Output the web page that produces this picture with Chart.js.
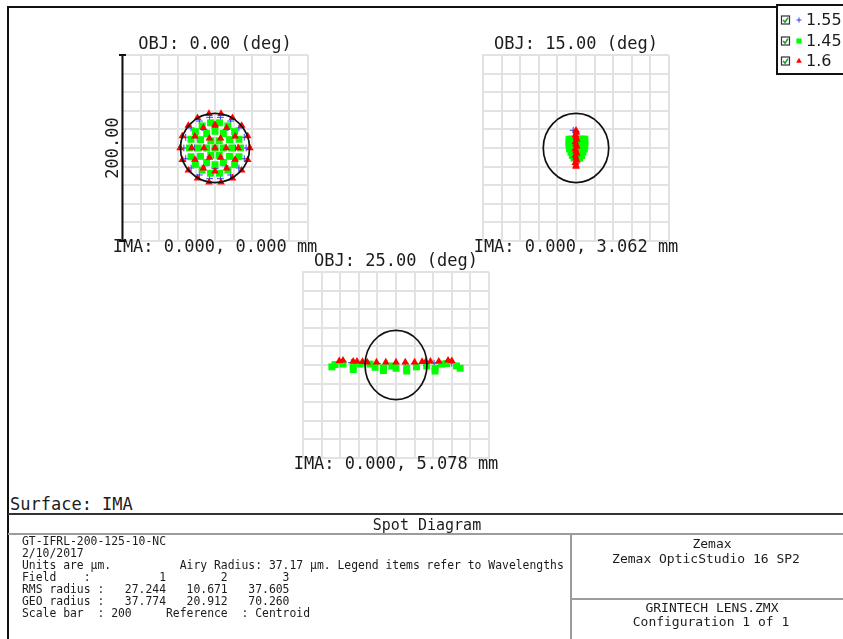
<!DOCTYPE html>
<html>
<head>
<meta charset="utf-8">
<script src="https://cdn.jsdelivr.net/npm/chart.js@4.4.0/dist/chart.umd.min.js"></script>
<style>
  html, body { margin: 0; padding: 0; background: #fff; }
  #page { position: relative; width: 843px; height: 639px; overflow: hidden; background: #fff; }
  .rule { position: absolute; }
  .t { position: absolute; white-space: pre; color: #1c1c1c; font-family: "DejaVu Sans Mono", monospace; line-height: 1; transform: translateY(-50%); }
  .c { transform: translate(-50%, -50%); }
  canvas { position: absolute; }
</style>
</head>
<body>
<div id="page">
  <!-- window frame -->
  <div class="rule" style="left:7px;top:6px;width:2px;height:633px;background:#111"></div>
  <div class="rule" style="left:7px;top:6px;width:770px;height:2px;background:#111"></div>

  <!-- legend box -->
  <div class="rule" style="left:776px;top:4px;width:80px;height:67px;border:2px solid #111;background:#fff"></div>
  <canvas id="legend" width="66" height="70" style="left:777px;top:5px"></canvas>
  <div id="legendText"></div>

  <!-- plots -->
  <canvas id="plot0"></canvas>
  <canvas id="plot1"></canvas>
  <canvas id="plot2"></canvas>

  <!-- surface + info block -->
  <div class="t" style="left:10px;top:504px;font-size:17px">Surface: IMA</div>
  <div class="rule" style="left:8px;top:513px;width:835px;height:2px;background:#333"></div>
  <div class="t c" style="left:427px;top:524.5px;font-size:15px">Spot Diagram</div>
  <div class="rule" style="left:8px;top:533px;width:835px;height:1.5px;background:#9c9c9c"></div>
  <div class="rule" style="left:570px;top:534px;width:1.5px;height:105px;background:#9c9c9c"></div>
  <div class="rule" style="left:571px;top:598px;width:272px;height:1.5px;background:#9c9c9c"></div>
  <div id="info"></div>
  <div class="t c" style="left:712px;top:543px;font-size:13px">Zemax</div>
  <div class="t c" style="left:706px;top:557.5px;font-size:13px">Zemax OpticStudio 16 SP2</div>
  <div class="t c" style="left:712px;top:607px;font-size:13px">GRINTECH LENS.ZMX</div>
  <div class="t c" style="left:711px;top:620.5px;font-size:13px">Configuration 1 of 1</div>
</div>

<script>
// ---- lens / analysis values ----
const wavelengths = ['1.55', '1.45', '1.6'];          // µm, legend order
const fieldAngles = ['0.00', '15.00', '25.00'];       // deg
const imageHeights = ['0.000, 0.000', '0.000, 3.062', '0.000, 5.078']; // mm
const fieldNumbers = ['1', '2', '3'];
const rmsRadius = ['27.244', '10.671', '37.605'];
const geoRadius = ['37.774', '20.912', '70.260'];
const airyRadius = '37.17';
const airyRadiusX = [37.17, 35.2, 33.3];              // µm, airy ellipse per field
const airyRadiusY = [37.17, 37.17, 37.17];
const scaleBar = 200;                                  // µm, full plot width

// ---- ray intercepts relative to centroid, µm [x, y] ----
// field 1 (0 deg)
const field1_w155 = [
  [0,0],
  [10.5,0],[5.3,9.1],[-5.3,9.1],[-10.5,0],[-5.3,-9.1],[5.3,-9.1],
  [22,0],[19.1,11],[11,19.1],[0,22],[-11,19.1],[-19.1,11],[-22,0],[-19.1,-11],[-11,-19.1],[0,-22],[11,-19.1],[19.1,-11],
  [33.5,0],[31.5,11.5],[25.7,21.5],[16.8,29],[5.8,33],[-5.8,33],[-16.8,29],[-25.7,21.5],[-31.5,11.5],
  [-33.5,0],[-31.5,-11.5],[-25.7,-21.5],[-16.8,-29],[-5.8,-33],[5.8,-33],[16.8,-29],[25.7,-21.5],[31.5,-11.5]
];
const field1_w145 = [
  [0,0],
  [9,0],[4.5,7.8],[-4.5,7.8],[-9,0],[-4.5,-7.8],[4.5,-7.8],
  [18,0],[15.6,9],[9,15.6],[0,18],[-9,15.6],[-15.6,9],[-18,0],[-15.6,-9],[-9,-15.6],[0,-18],[9,-15.6],[15.6,-9],
  [27.5,0],[25.8,9.4],[21.1,17.7],[13.8,23.8],[4.8,27.1],[-4.8,27.1],[-13.8,23.8],[-21.1,17.7],[-25.8,9.4],
  [-27.5,0],[-25.8,-9.4],[-21.1,-17.7],[-13.8,-23.8],[-4.8,-27.1],[4.8,-27.1],[13.8,-23.8],[21.1,-17.7],[25.8,-9.4]
];
const field1_w160 = [
  [0,0],
  [12,0],[6,10.4],[-6,10.4],[-12,0],[-6,-10.4],[6,-10.4],
  [25,0],[21.7,12.5],[12.5,21.7],[0,25],[-12.5,21.7],[-21.7,12.5],[-25,0],[-21.7,-12.5],[-12.5,-21.7],[0,-25],[12.5,-21.7],[21.7,-12.5],
  [37.5,0],[35.2,12.8],[28.7,24.1],[18.8,32.5],[6.5,36.9],[-6.5,36.9],[-18.8,32.5],[-28.7,24.1],[-35.2,12.8],
  [-37.5,0],[-35.2,-12.8],[-28.7,-24.1],[-18.8,-32.5],[-6.5,-36.9],[6.5,-36.9],[18.8,-32.5],[28.7,-24.1],[35.2,-12.8]
];

// field 2 (15 deg)
const field2_w155 = [[-3,19],[0,17],[0.5,12],[0,7],[-0.5,2],[0,-3],[0.5,-8],[0,-13],[0,-17]];
const field2_w145 = [
  [-7.5,9.5],[-4.5,9.5],[-1.5,9.5],[1.5,9.5],[4.5,9.5],[7.5,9.5],[9.5,9.5],
  [-7.5,6],[-4.5,6],[-1.5,6],[1.5,6],[4.5,6],[7.5,6],[9.5,6],
  [-7.5,2.5],[-4.5,2.5],[-1.5,2.5],[1.5,2.5],[4.5,2.5],[7.5,2.5],[9.5,2.5],
  [-7,-1],[-4,-1],[-1,-1],[2,-1],[5,-1],[8,-1],[9,-1],
  [-5.5,-4.5],[-2.5,-4.5],[0.5,-4.5],[3.5,-4.5],[6.5,-4.5],[7.5,-4.5],
  [-4,-8],[-1,-8],[2,-8],[5,-8],[6,-8],
  [-2,-11],[1,-11],[4,-11]
];
const field2_w160 = [
  [0,19],[0.5,16.5],[-0.5,14],[0,11.5],[0.8,9],[-0.8,6.5],[0,4],[0.8,1.5],[-0.8,-1],
  [0,-3.5],[0.8,-6],[-0.8,-8.5],[0,-11],[0.8,-13.5],[-0.8,-16],[0,-18.5],[0,-20]
];

// field 3 (25 deg)
const field3_w155 = [
  [-60,2],[-48,2.5],[-41,2],[-30,2],[-20,1.5],[-10,1.5],[0,1.5],[10,1.5],[20,1.5],[30,2],[41,2],[46,2.5],[60,2]
];
const field3_w145 = [
  [-69,-2],[-65.5,0.5],[-57,1],[-46,-1.5],[-46,-5],[-38.5,1],[-28,1],[-22.5,-2.5],[-13.5,-3],[-13.5,-6],
  [-4.5,-1],[0,-3.5],[11.5,-3.5],[11.5,-6.5],[22,-2],[33,-1],[42,-3.5],[42,-6.5],[49,1],[54.5,1.5],[65,-1],[69,-3.5]
];
const field3_w160 = [
  [-61,4.5],[-57,5],[-46,4],[-42,4],[-36,3.5],[-31,3],[-21,3],[-11,3],[0,3],
  [10,3],[20,3],[28,3.5],[32,3.5],[37,4],[46,4],[56,5],[60,4.5]
];

const spots = [
  [field1_w155, field1_w145, field1_w160],
  [field2_w155, field2_w145, field2_w160],
  [field3_w155, field3_w145, field3_w160]
];

// ---- drawing styles ----
const wlStyle = [
  { pointStyle: 'cross',    radius: 3.4, fill: 'rgba(0,0,0,0)', stroke: '#3a3aff', borderWidth: 1, order: 2 },
  { pointStyle: 'rect',     radius: 4.9, fill: '#00ff00',       stroke: '#00ff00', borderWidth: 0, order: 1 },
  { pointStyle: 'triangle', radius: 4.4, fill: '#ff0000',       stroke: '#ff0000', borderWidth: 0, order: 0 }
];
const PLOT = 186;   // grid box size, px
const PAD = 30;     // room around the grid for labels
const plotOrigins = [ { left: 122, top: 55 }, { left: 483, top: 55 }, { left: 303, top: 272 } ];
const labelFont = '17px "DejaVu Sans Mono", monospace';
const ink = '#1c1c1c';
const gridColor = '#e2e2e2';

function spotDecor(fieldIndex) {
  return {
    id: 'spotDecor' + fieldIndex,
    afterDatasetsDraw(chart) {
      const { ctx, chartArea, scales } = chart;
      const sx = scales.x, sy = scales.y;
      const cx = sx.getPixelForValue(0), cy = sy.getPixelForValue(0);
      const rx = Math.abs(sx.getPixelForValue(airyRadiusX[fieldIndex]) - cx);
      const ry = Math.abs(sy.getPixelForValue(airyRadiusY[fieldIndex]) - cy);
      ctx.save();
      // Airy disk
      ctx.beginPath();
      ctx.ellipse(cx, cy, rx, ry, 0, 0, Math.PI * 2);
      ctx.lineWidth = 1.7;
      ctx.strokeStyle = '#111';
      ctx.stroke();

      // field labels
      const mid = (chartArea.left + chartArea.right) / 2;
      ctx.font = labelFont;
      ctx.fillStyle = ink;
      ctx.textAlign = 'center';
      ctx.textBaseline = 'middle';
      ctx.fillText('OBJ: ' + fieldAngles[fieldIndex] + ' (deg)', mid, chartArea.top - 10.5);
      ctx.fillText('IMA: ' + imageHeights[fieldIndex] + ' mm', mid, chartArea.bottom + 6.5);

      // scale bar on the first field
      if (fieldIndex === 0) {
        const x0 = Math.round(chartArea.left) + 0.5;
        const yTop = sy.getPixelForValue(scaleBar / 2);
        const yBot = sy.getPixelForValue(-scaleBar / 2);
        ctx.beginPath();
        ctx.moveTo(x0, yTop); ctx.lineTo(x0, yBot);
        ctx.moveTo(x0 - 3.5, yTop); ctx.lineTo(x0 + 3.5, yTop);
        ctx.moveTo(x0 - 3.5, yBot); ctx.lineTo(x0 + 3.5, yBot);
        ctx.lineWidth = 2;
        ctx.strokeStyle = '#111';
        ctx.stroke();
        ctx.translate(chartArea.left - 8.7, (yTop + yBot) / 2);
        ctx.rotate(-Math.PI / 2);
        ctx.fillText(scaleBar.toFixed(2), 0, 0);
      }
      ctx.restore();
    }
  };
}

function axis() {
  return {
    type: 'linear',
    min: -scaleBar / 2,
    max: scaleBar / 2,
    ticks: { display: false, stepSize: 20 },
    grid: { color: gridColor, lineWidth: 2, drawTicks: false },
    border: { display: true, color: gridColor, width: 2 }
  };
}

spots.forEach((fieldSpots, i) => {
  const cv = document.getElementById('plot' + i);
  cv.width = PLOT + 2 * PAD;
  cv.height = PLOT + 2 * PAD;
  cv.style.left = (plotOrigins[i].left - PAD) + 'px';
  cv.style.top = (plotOrigins[i].top - PAD) + 'px';
  const datasets = fieldSpots.map((pts, w) => ({
    label: wavelengths[w],
    data: pts.map(p => ({ x: p[0], y: p[1] })),
    pointStyle: wlStyle[w].pointStyle,
    pointRadius: wlStyle[w].radius,
    backgroundColor: wlStyle[w].fill,
    borderColor: wlStyle[w].stroke,
    borderWidth: wlStyle[w].borderWidth,
    order: wlStyle[w].order,
    showLine: false
  }));
  new Chart(cv, {
    type: 'scatter',
    data: { datasets },
    options: {
      responsive: false,
      animation: false,
      events: [],
      layout: { padding: PAD },
      plugins: { legend: { display: false }, tooltip: { enabled: false } },
      scales: { x: axis(), y: axis() }
    },
    plugins: [spotDecor(i)]
  });
});

// ---- legend ----
(function drawLegend() {
  const ctx = document.getElementById('legend').getContext('2d');
  const rows = [15, 36, 56];   // canvas-local centre of each entry
  const box = document.getElementById('legendText');
  wavelengths.forEach((wl, w) => {
    const y = rows[w];
    // check box
    ctx.fillStyle = '#fff';
    ctx.fillRect(4.5, y - 4, 8, 8);
    ctx.strokeStyle = '#333';
    ctx.lineWidth = 1.2;
    ctx.strokeRect(4.5, y - 4, 8, 8);
    ctx.beginPath();
    ctx.moveTo(6.2, y); ctx.lineTo(8, y + 2.2); ctx.lineTo(11, y - 2.4);
    ctx.strokeStyle = '#1f9a2f';
    ctx.lineWidth = 1.6;
    ctx.stroke();
    // marker
    const st = wlStyle[w];
    ctx.fillStyle = st.fill;
    ctx.strokeStyle = st.stroke;
    ctx.lineWidth = 1;
    Chart.helpers.drawPoint(ctx, {
      pointStyle: st.pointStyle,
      radius: st.radius * 0.75,
      rotation: 0,
      borderWidth: st.borderWidth
    }, 22, y);
    const lab = document.createElement('div');
    lab.className = 't';
    lab.style.cssText = 'left:806px;top:' + (y + 5) + 'px;font-family:"DejaVu Sans",sans-serif;font-size:16px';
    lab.textContent = wl;
    box.appendChild(lab);
  });
})();

// ---- info block ----
(function writeInfo() {
  const pad = (s, n) => s.padStart(n, ' ');
  const lines = [
    'GT-IFRL-200-125-10-NC',
    '2/10/2017',
    'Units are \u00b5m.          Airy Radius: ' + airyRadius + ' \u00b5m. Legend items refer to Wavelengths',
    'Field    :' + pad(fieldNumbers[0], 11) + pad(fieldNumbers[1], 9) + pad(fieldNumbers[2], 9),
    'RMS radius :' + rmsRadius.map(v => pad(v, 9)).join(''),
    'GEO radius :' + geoRadius.map(v => pad(v, 9)).join(''),
    'Scale bar  : ' + scaleBar + '     Reference  : Centroid'
  ];
  const host = document.getElementById('info');
  lines.forEach((txt, k) => {
    const d = document.createElement('div');
    d.className = 't';
    d.style.cssText = 'left:22px;top:' + (542 + 12 * k) + 'px;font-size:11.4px';
    d.textContent = txt;
    host.appendChild(d);
  });
})();
</script>
</body>
</html>
